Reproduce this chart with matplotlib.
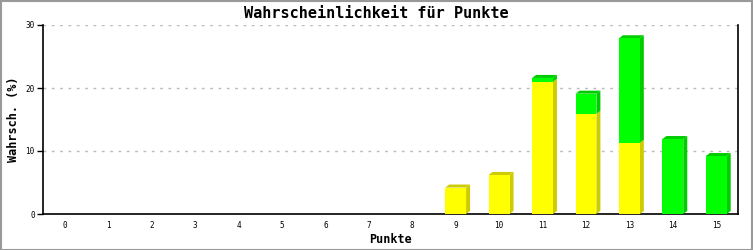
import numpy as np
import matplotlib
matplotlib.use('Agg')
import matplotlib.pyplot as plt
from matplotlib.patches import Polygon, Rectangle

# DATA
punkte = list(range(16))
gelb = [0, 0, 0, 0, 0, 0, 0, 0, 0, 4.2, 6.2, 21.0, 15.9, 11.3, 0, 0]
gruen = [0, 0, 0, 0, 0, 0, 0, 0, 0, 0, 0, 0.6, 3.2, 16.6, 11.9, 9.2]
y_ticks = [0, 10, 20, 30]

# COLOURS
front_cols = ['#ffff00', '#00ff00']
side_cols = ['#cccc00', '#00cc00']

W, H = 753, 250
fig = plt.figure(figsize=(W / 100, H / 100), dpi=100)
left, right, bottom, top = 43, 738, 214, 25
ax = fig.add_axes([left / W, (H - bottom) / H, (right - left) / W, (bottom - top) / H])

xlim = (-0.5, 15.5)
ylim = (0, 30)
ax.set_xlim(xlim)
ax.set_ylim(ylim)

# 3D DEPTH IN DATA UNITS (4 PX RIGHT, 3 PX UP)
dx = 4 * (xlim[1] - xlim[0]) / (right - left)
dy = 3 * (ylim[1] - ylim[0]) / (bottom - top)
bw = 0.48

for i, p in enumerate(punkte):
    base = 0
    segs = [gelb[i], gruen[i]]
    last = max([k for k in range(2) if segs[k] > 0], default=-1)
    for k, v in enumerate(segs):
        if v <= 0:
            continue
        x0, x1 = p - bw / 2, p + bw / 2
        y0, y1 = base, base + v
        # SIDE FACE
        side = [(x1, y0), (x1 + dx, y0 + dy), (x1 + dx, y1 + dy), (x1, y1)]
        ax.add_patch(Polygon(side, closed=True, facecolor=side_cols[k], edgecolor='none', zorder=3))
        # TOP FACE ONLY ON THE HIGHEST SEGMENT
        if k == last:
            topf = [(x0, y1), (x0 + dx, y1 + dy), (x1 + dx, y1 + dy), (x1, y1)]
            ax.add_patch(Polygon(topf, closed=True, facecolor=side_cols[k], edgecolor='none', zorder=3))
        ax.add_patch(Rectangle((x0, y0), bw, v, facecolor=front_cols[k], edgecolor='none', zorder=4))
        base = y1

mono = 'DejaVu Sans Mono'
ax.set_xticks(punkte)
ax.set_xticklabels([str(p) for p in punkte], fontsize=5.5, family=mono)
ax.set_yticks(y_ticks)
ax.set_yticklabels([str(t) for t in y_ticks], fontsize=5.5, family=mono)
ax.tick_params(axis='x', length=0, pad=5)
ax.tick_params(axis='y', length=4, width=1, direction='out', pad=2)

for yt in y_ticks[1:]:
    ax.axhline(yt, color='#bbbbbb', lw=1, ls=(0, (2, 4)), zorder=1)

ax.spines['top'].set_visible(False)
for s in ['left', 'bottom', 'right']:
    ax.spines[s].set_color('black')
    ax.spines[s].set_linewidth(1.2)

ax.set_ylabel('Wahrsch. (%)', fontsize=8.5, family=mono, fontweight='bold', labelpad=4)
ax.set_xlabel('Punkte', fontsize=8.5, family=mono, fontweight='bold', labelpad=2)
fig.text(0.5, 1 - 13 / H, 'Wahrscheinlichkeit für Punkte', ha='center', va='center',
         fontsize=11, family=mono, fontweight='bold')

# GRAY BORDER ROUND THE IMAGE
fig.patches.append(Rectangle((0.5 / W, 0.5 / H), 1 - 1.5 / W, 1 - 1.5 / H, transform=fig.transFigure,
                             fill=False, edgecolor='#999999', lw=1.5))

fig.savefig('out.png', dpi=100)
